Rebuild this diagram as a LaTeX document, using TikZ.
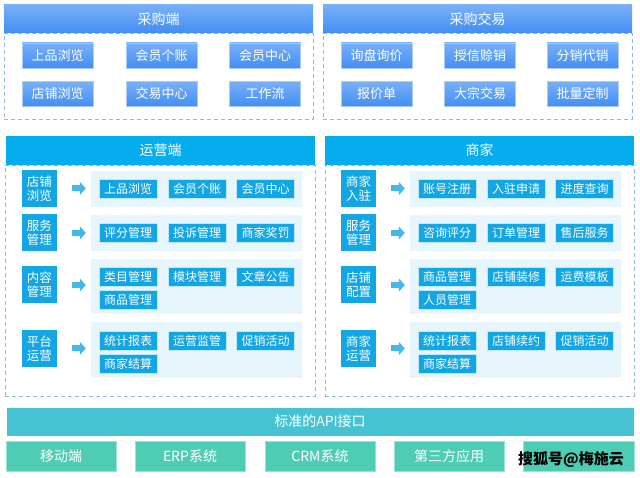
\documentclass[tikz,border=0pt]{standalone}
\usepackage{fontspec}
\setmainfont{Noto Sans CJK SC}
\usetikzlibrary{arrows.meta}
\definecolor{buytop}{HTML}{78B0F9}
\definecolor{buybot}{HTML}{428EF2}
\definecolor{buyline}{HTML}{A9CBF6}
\definecolor{dashblue}{HTML}{8DB5F1}
\definecolor{opblue}{HTML}{05ADEE}
\definecolor{opitem}{HTML}{12A6E4}
\definecolor{opline}{HTML}{BFE8F8}
\definecolor{oppanel}{HTML}{E6F6FC}
\definecolor{flowblue}{HTML}{45B8EB}
\definecolor{apicyan}{HTML}{46C3D2}
\definecolor{systeal}{HTML}{4FCDB4}
\definecolor{sysline}{HTML}{9BE3D5}
\begin{document}
\begin{tikzpicture}[x=1pt,y=-1pt,inner sep=0pt,
		head/.style={text=white,font=\fontsize{14}{16}\selectfont,minimum width=309pt,minimum height=28pt},
		buyhead/.style={head,top color=buytop,bottom color=buybot},
		ophead/.style={head,fill=opblue,minimum height=29pt},
		dashbox/.style={draw=dashblue,dashed,dash pattern=on 4pt off 3pt,line width=0.8pt},
		buyitem/.style={draw=buyline,line width=0.6pt,top color=buytop,bottom color=buybot,text=white,font=\fontsize{13}{15}\selectfont,minimum width=71pt,minimum height=25pt},
		oplabel/.style={fill=opitem,text=white,align=center,font=\fontsize{12.5}{14}\selectfont,minimum width=35pt,minimum height=37pt},
		panel/.style={fill=oppanel,minimum width=211pt},
		opitem/.style={draw=opline,line width=0.6pt,fill=opitem,text=white,font=\fontsize{12}{14}\selectfont,minimum width=58pt,minimum height=19pt},
		flow/.style={draw=flowblue,line width=6pt,-{Triangle[length=6pt,width=13pt]},shorten <=15pt,shorten >=5pt},
		apibar/.style={fill=apicyan,draw=white,line width=0.6pt,text=white,font=\fontsize{14}{16}\selectfont,minimum width=628pt,minimum height=29pt},
		sysbox/.style={fill=systeal,draw=sysline,line width=0.6pt,text=white,font=\fontsize{14}{16}\selectfont,minimum width=110pt,minimum height=30pt},
		stamp/.style={text=black,font=\fontsize{15}{17}\selectfont\bfseries}
	]
	\useasboundingbox (0,0) rectangle (640,478);

	\node[dashbox,minimum width=309pt,minimum height=86pt] (buybox) at (158.5,76) {};
	\node[buyhead] (buyhd) at (158.5,19) {采购端};
	\node[buyitem] (b1) at (57.5,55.5) {上品浏览};
	\node[buyitem] (b2) at (161.5,55.5) {会员个账};
	\node[buyitem] (b3) at (265,55.5) {会员中心};
	\node[buyitem] (b4) at (57.5,94) {店铺浏览};
	\node[buyitem] (b5) at (161.5,94) {交易中心};
	\node[buyitem] (b6) at (265,94) {工作流};

	\node[dashbox,minimum width=309pt,minimum height=86pt] (tradebox) at (477.5,76) {};
	\node[buyhead] (tradehd) at (477.5,19) {采购交易};
	\node[buyitem] (t1) at (376.5,55.5) {询盘询价};
	\node[buyitem] (t2) at (480,55.5) {授信赊销};
	\node[buyitem] (t3) at (582.5,55.5) {分销代销};
	\node[buyitem] (t4) at (376.5,94) {报价单};
	\node[buyitem] (t5) at (480,94) {大宗交易};
	\node[buyitem] (t6) at (582.5,94) {批量定制};

	\node[dashbox,minimum width=310pt,minimum height=231pt] (opbox) at (160,280.5) {};
	\node[ophead] (ophd) at (160.5,150.5) {运营端};
	\node[oplabel] (ol1) at (39.5,188.5) {店铺\\浏览};
	\node[oplabel] (ol2) at (39.5,233) {服务\\管理};
	\node[oplabel] (ol3) at (39.5,285) {内容\\管理};
	\node[oplabel] (ol4) at (39.5,348.5) {平台\\运营};
	\node[panel,minimum height=36pt] (op1) at (196.5,189) {};
	\node[panel,minimum height=36pt] (op2) at (196.5,233) {};
	\node[panel,minimum height=55pt] (op3) at (196.5,286.5) {};
	\node[panel,minimum height=56pt] (op4) at (196.5,350) {};
	\node[opitem] (o11) at (128,188.5) {上品浏览};
	\node[opitem] (o12) at (197,188.5) {会员个账};
	\node[opitem] (o13) at (265.5,188.5) {会员中心};
	\node[opitem] (o21) at (128,232.5) {评分管理};
	\node[opitem] (o22) at (197,232.5) {投诉管理};
	\node[opitem] (o23) at (265.5,232.5) {商家奖罚};
	\node[opitem] (o31) at (128,276.5) {类目管理};
	\node[opitem] (o32) at (197,276.5) {模块管理};
	\node[opitem] (o33) at (265.5,276.5) {文章公告};
	\node[opitem] (o34) at (128,300) {商品管理};
	\node[opitem] (o41) at (128,340.5) {统计报表};
	\node[opitem] (o42) at (197,340.5) {运营监管};
	\node[opitem] (o43) at (265.5,340.5) {促销活动};
	\node[opitem] (o44) at (128,363.5) {商家结算};
	\draw[flow] (ol1.east) -- (ol1.east -| op1.west);
	\draw[flow] (ol2.east) -- (ol2.east -| op2.west);
	\draw[flow] (ol3.east) -- (ol3.east -| op3.west);
	\draw[flow] (ol4.east) -- (ol4.east -| op4.west);

	\node[dashbox,minimum width=309pt,minimum height=231pt] (shopbox) at (479.5,280.5) {};
	\node[ophead] (shophd) at (479.5,150.5) {商家};
	\node[oplabel] (sl1) at (358.5,188.5) {商家\\入驻};
	\node[oplabel] (sl2) at (358.5,233) {服务\\管理};
	\node[oplabel] (sl3) at (358.5,285) {店铺\\配置};
	\node[oplabel] (sl4) at (358.5,348.5) {商家\\运营};
	\node[panel,minimum height=36pt] (sp1) at (515.5,189) {};
	\node[panel,minimum height=36pt] (sp2) at (515.5,233) {};
	\node[panel,minimum height=55pt] (sp3) at (515.5,286.5) {};
	\node[panel,minimum height=56pt] (sp4) at (515.5,350) {};
	\node[opitem] (s11) at (447,188.5) {账号注册};
	\node[opitem] (s12) at (516,188.5) {入驻申请};
	\node[opitem] (s13) at (584.5,188.5) {进度查询};
	\node[opitem] (s21) at (447,232.5) {咨询评分};
	\node[opitem] (s22) at (516,232.5) {订单管理};
	\node[opitem] (s23) at (584.5,232.5) {售后服务};
	\node[opitem] (s31) at (447,276.5) {商品管理};
	\node[opitem] (s32) at (516,276.5) {店铺装修};
	\node[opitem] (s33) at (584.5,276.5) {运费模板};
	\node[opitem] (s34) at (447,300) {人员管理};
	\node[opitem] (s41) at (447,340.5) {统计报表};
	\node[opitem] (s42) at (516,340.5) {店铺续约};
	\node[opitem] (s43) at (584.5,340.5) {促销活动};
	\node[opitem] (s44) at (447,363.5) {商家结算};
	\draw[flow] (sl1.east) -- (sl1.east -| sp1.west);
	\draw[flow] (sl2.east) -- (sl2.east -| sp2.west);
	\draw[flow] (sl3.east) -- (sl3.east -| sp3.west);
	\draw[flow] (sl4.east) -- (sl4.east -| sp4.west);

	\node[apibar] (api) at (320,421.5) {标准的API接口};
	\node[sysbox] (sys1) at (61,456) {移动端};
	\node[sysbox] (sys2) at (190,456) {ERP系统};
	\node[sysbox] (sys3) at (320,456) {CRM系统};
	\node[sysbox] (sys4) at (449,456) {第三方应用};
	\node[sysbox,minimum width=111pt] (sys5) at (578.5,456) {};
	\node[stamp] (wm) at (571,460) {搜狐号@梅施云};
\end{tikzpicture}
\end{document}
